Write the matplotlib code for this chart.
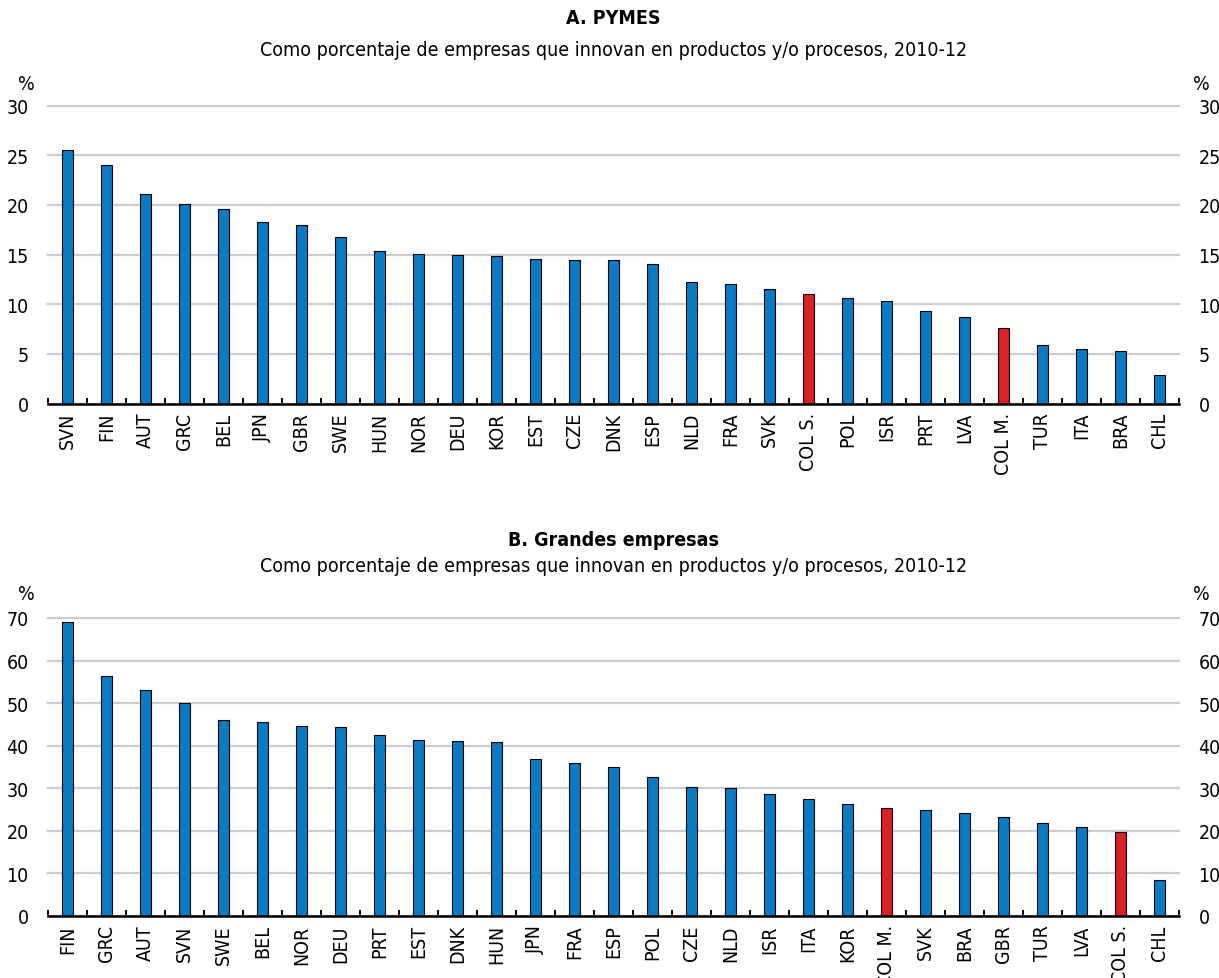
import matplotlib
matplotlib.use("Agg")
import matplotlib.pyplot as plt
import numpy as np

plt.rcParams['font.family'] = ['Liberation Sans Narrow', 'DejaVu Sans']
plt.rcParams['font.stretch'] = 'condensed'

# Panel A: PYMES
pymes_paises = ["SVN", "FIN", "AUT", "GRC", "BEL", "JPN", "GBR", "SWE", "HUN", "NOR",
                "DEU", "KOR", "EST", "CZE", "DNK", "ESP", "NLD", "FRA", "SVK", "COL S.",
                "POL", "ISR", "PRT", "LVA", "COL M.", "TUR", "ITA", "BRA", "CHL"]
pymes_valores = [25.5, 24.0, 21.1, 20.1, 19.6, 18.3, 17.95, 16.8, 15.4, 15.1,
                 15.0, 14.8, 14.5, 14.4, 14.4, 14.0, 12.25, 12.05, 11.5, 11.05,
                 10.65, 10.35, 9.3, 8.7, 7.65, 5.9, 5.5, 5.3, 2.9]

# Panel B: Grandes empresas
grandes_paises = ["FIN", "GRC", "AUT", "SVN", "SWE", "BEL", "NOR", "DEU", "PRT", "EST",
                  "DNK", "HUN", "JPN", "FRA", "ESP", "POL", "CZE", "NLD", "ISR", "ITA",
                  "KOR", "COL M.", "SVK", "BRA", "GBR", "TUR", "LVA", "COL S.", "CHL"]
grandes_valores = [69.0, 56.4, 53.0, 50.0, 46.0, 45.6, 44.7, 44.3, 42.5, 41.4,
                   41.1, 40.8, 36.8, 35.9, 34.9, 32.6, 30.3, 30.0, 28.7, 27.6,
                   26.3, 25.3, 25.0, 24.2, 23.3, 21.8, 21.0, 19.7, 8.4]

azul = "#0A7AC2"
rojo = "#DA2128"
gris = "#CCCCCC"
fs = 14

W, H = 1219, 979
fig = plt.figure(figsize=(W / 100, H / 100), dpi=100)


def panel(rect, paises, valores, ymax, paso, titulo, subtitulo, y_tit, y_sub, y_pct):
    ax = fig.add_axes(rect)
    x = np.arange(len(paises))
    colores = [rojo if p.startswith("COL") else azul for p in paises]
    ax.bar(x, valores, width=0.3, color=colores, edgecolor="black", linewidth=0.8, zorder=3)
    ax.set_xlim(-0.5, len(paises) - 0.5)
    ax.set_ylim(0, ymax)
    ax.set_yticks(np.arange(0, ymax + 1, paso))
    ax.yaxis.grid(True, color=gris, linewidth=1.6, zorder=0)
    for gl in ax.get_ygridlines():
        gl.set_clip_on(False)
    ax.set_axisbelow(True)
    for s in ["left", "right", "top"]:
        ax.spines[s].set_visible(False)
    ax.spines["bottom"].set_linewidth(1.8)
    ax.spines["bottom"].set_zorder(4)
    ax.set_xticks(x)
    ax.set_xticklabels(paises, rotation=90, fontsize=fs)
    ax.set_xticks(np.arange(-0.5, len(paises)), minor=True)
    ax.tick_params(axis="x", which="major", length=0, pad=6)
    ax.tick_params(axis="x", which="minor", direction="in", length=4, width=1.4)
    ax.tick_params(axis="y", length=0, labelsize=fs, labelleft=True, labelright=True, pad=14)
    fig.text(0.503, 1 - y_tit / H, titulo, ha="center", va="center", fontsize=fs, fontweight="bold")
    fig.text(0.503, 1 - y_sub / H, subtitulo, ha="center", va="center", fontsize=fs)
    fig.text(26 / W, 1 - y_pct / H, "%", ha="center", va="center", fontsize=fs)
    fig.text(1201 / W, 1 - y_pct / H, "%", ha="center", va="center", fontsize=fs)
    return ax


sub = "Como porcentaje de empresas que innovan en productos y/o procesos, 2010-12"
left, right = 48 / W, 1179 / W
panel([left, 1 - 404.5 / H, right - left, (404.5 - 106.5) / H],
      pymes_paises, pymes_valores, 30, 5, "A. PYMES", sub, 18, 50, 84)
panel([left, 1 - 917 / H, right - left, (917 - 619) / H],
      grandes_paises, grandes_valores, 70, 10, "B. Grandes empresas", sub, 540, 566, 595)

fig.savefig("out.png", dpi=100)
